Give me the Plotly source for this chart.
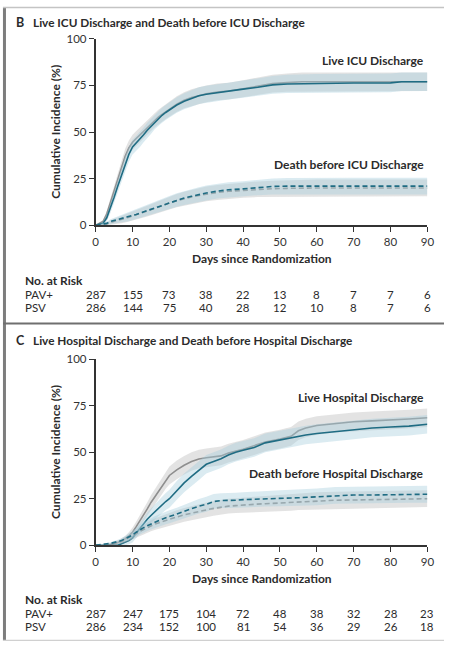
import plotly.graph_objects as go

# ---------------- Panel B: ICU outcomes ----------------
B_days = [0, 2, 3, 4, 5, 6, 7, 8, 9, 10, 11, 12, 13, 14, 15, 16, 17, 18, 19, 20,
          22, 24, 26, 28, 30, 33, 36, 40, 44, 48, 52, 56, 60, 70, 80, 83, 90]
B_live_pav = [0, 1, 4, 9, 15, 21, 27, 33, 38, 42, 44, 46, 48.5, 51, 53, 55.5, 57.5, 59, 60.5, 62,
              64.5, 66.5, 68, 69.5, 70.3, 71, 72, 73, 74, 75.3, 75.8, 76, 76.2, 76.3, 76.4, 77, 77]
B_live_psv = [0, 2, 6, 12, 19, 25, 31, 37, 41.5, 44.5, 46.5, 48.5, 50.5, 52.5, 54.5, 56.5, 58, 59.5, 61, 62.5,
              65, 67, 68.5, 69.5, 70.5, 71.5, 72, 73.2, 74.5, 76, 76.5, 77, 77, 77, 77, 77, 77]
B_death_pav = [0, 0.5, 1, 2, 2.5, 3, 3.5, 4, 4.5, 5.2, 5.8, 6.5, 7.2, 8, 8.6, 9.3, 10, 10.8, 11.5, 12.2,
               13.5, 14.6, 15.5, 16.5, 17.3, 18.3, 19, 19.5, 20.3, 20.8, 21, 21, 21, 21, 21, 21, 21]
B_death_psv = [0, 0.3, 0.7, 1.5, 2, 2.5, 3, 3.6, 4.3, 5, 5.6, 6.3, 7, 7.7, 8.3, 9, 9.7, 10.5, 11.2, 12,
               13.2, 14.3, 15.2, 16, 16.8, 17.6, 18.2, 18.8, 19.3, 19.6, 19.8, 20, 20, 20, 20, 20, 20]
# half-width of the 95% confidence bands
B_live_ci = [0, 1, 1.8, 2.5, 3, 3.5, 3.8, 4, 4, 4, 4, 4, 4, 4, 4, 4, 4, 4, 4, 4,
             4.2, 4.3, 4.4, 4.5, 4.5, 4.5, 4.5, 4.6, 4.7, 4.8, 4.9, 5, 5, 5, 5, 5, 5]
B_death_ci = [0, 0.5, 0.8, 1.2, 1.5, 1.8, 2, 2.2, 2.4, 2.6, 2.7, 2.8, 2.9, 3, 3.1, 3.2, 3.3, 3.3, 3.4, 3.5,
              3.6, 3.7, 3.8, 3.9, 4, 4, 4, 4.1, 4.2, 4.3, 4.4, 4.5, 4.5, 4.5, 4.5, 4.5, 4.5]

# ---------------- Panel C: hospital outcomes ----------------
C_days = [0, 2, 4, 6, 7, 8, 9, 10, 11, 12, 13, 14, 15, 16, 17, 18, 19, 20, 22, 24,
          26, 28, 30, 32, 34, 36, 38, 40, 43, 46, 50, 53, 55, 57, 60, 65, 70, 75, 80, 85, 90]
C_live_pav = [0, 0, 0, 0, 0.8, 1.5, 2.5, 4, 6.5, 9.5, 12, 14, 16, 18, 19.5, 21.5, 23.5, 25, 29.5, 33.5,
              37, 40, 43.5, 45, 46.5, 48.5, 50, 51, 52.5, 55, 56.5, 57.8, 58.5, 59.2, 60, 61, 62, 63, 63.5, 64, 65]
C_live_psv = [0, 0, 0.5, 1.5, 2.5, 3.5, 5, 7, 10, 13, 16, 19.5, 23, 26, 29, 32, 35, 37.5, 40.5, 43,
              45, 46.3, 47, 47.5, 48, 49.5, 50.5, 51.5, 53.5, 55.5, 57, 58.5, 61.5, 63, 64.3, 65.5, 66.3, 66.8, 67.2, 67.8, 68.5]
C_death_pav = [0, 0.5, 1, 2, 2.5, 3.5, 4.5, 5.5, 7, 8.5, 9.5, 10.5, 11.5, 12.5, 13.2, 14, 14.7, 15.3, 16.5, 18,
               19.5, 21, 22, 23.5, 24, 24, 24.2, 24.5, 24.8, 25, 25.2, 25.4, 25.5, 25.7, 26, 26.8, 27, 27, 27.2, 27.3, 27.4]
C_death_psv = [0, 0.2, 0.6, 1.5, 2, 3, 4, 5, 6.3, 7.5, 8.5, 9.5, 10.5, 11.3, 12, 12.7, 13.3, 14, 15.2, 16.3,
               17.3, 18.3, 19, 19.8, 20.5, 21, 21.3, 21.7, 22, 22.3, 22.7, 23, 23.3, 23.5, 24, 24.2, 24.3, 24.5, 24.6, 24.8, 25]
C_live_ci = [0, 0, 0.3, 0.8, 1.2, 1.5, 2, 2.5, 2.8, 3, 3.3, 3.6, 3.8, 4, 4.2, 4.4, 4.6, 4.8, 5, 5,
             5, 5, 5, 5, 5, 5, 5, 5, 5, 5, 5, 5, 5, 5, 5, 5, 5, 5, 5, 5, 5]
C_death_ci = [0, 0.3, 0.6, 1, 1.2, 1.5, 1.8, 2, 2.2, 2.5, 2.7, 2.9, 3, 3.1, 3.2, 3.3, 3.4, 3.5, 3.6, 3.7,
              3.8, 3.9, 4, 4, 4, 4, 4, 4, 4.1, 4.2, 4.3, 4.4, 4.4, 4.5, 4.5, 4.5, 4.5, 4.5, 4.5, 4.5, 4.5]

# ---------------- Numbers at risk ----------------
risk_days = [0, 10, 20, 30, 40, 50, 60, 70, 80, 90]
B_risk_pav = [287, 155, 73, 38, 22, 13, 8, 7, 7, 6]
B_risk_psv = [286, 144, 75, 40, 28, 12, 10, 8, 7, 6]
C_risk_pav = [287, 247, 175, 104, 72, 48, 38, 32, 28, 23]
C_risk_psv = [286, 234, 152, 100, 81, 54, 36, 29, 26, 18]

x_ticks = [0, 10, 20, 30, 40, 50, 60, 70, 80, 90]
y_ticks = [0, 25, 50, 75, 100]

TEAL = "#1f6c83"
GRAY = "#8e8e8e"
TEAL_BAND = "rgba(165,205,220,0.40)"
GRAY_BAND = "rgba(178,178,178,0.36)"
TXT = "#2b2b2b"
FONT = "Lato"

W, H = 451, 647


def py(p):
    """pixel row -> paper fraction"""
    return 1 - p / H


def px(p):
    return p / W


fig = go.Figure()


def add_curve(days, vals, ci, color, band, dash, xa, ya):
    lo = [max(v - c, 0) for v, c in zip(vals, ci)]
    hi = [min(v + c, 100) for v, c in zip(vals, ci)]
    fig.add_trace(go.Scatter(
        x=list(days) + list(days)[::-1], y=hi + lo[::-1],
        fill="toself", fillcolor=band, line=dict(width=0),
        mode="lines", hoverinfo="skip", showlegend=False, xaxis=xa, yaxis=ya))
    fig.add_trace(go.Scatter(
        x=days, y=vals, mode="lines", line=dict(color=color, width=1.6, dash=dash),
        showlegend=False, xaxis=xa, yaxis=ya))


# Panel B traces
add_curve(B_days, B_live_psv, B_live_ci, GRAY, GRAY_BAND, "solid", "x", "y")
add_curve(B_days, B_live_pav, B_live_ci, TEAL, TEAL_BAND, "solid", "x", "y")
add_curve(B_days, B_death_psv, B_death_ci, GRAY, GRAY_BAND, "5px,3px", "x", "y")
add_curve(B_days, B_death_pav, B_death_ci, TEAL, TEAL_BAND, "5px,3px", "x", "y")

# Panel C traces
add_curve(C_days, C_live_psv, C_live_ci, GRAY, GRAY_BAND, "solid", "x2", "y2")
add_curve(C_days, C_live_pav, C_live_ci, TEAL, TEAL_BAND, "solid", "x2", "y2")
add_curve(C_days, C_death_psv, C_death_ci, GRAY, GRAY_BAND, "5px,3px", "x2", "y2")
add_curve(C_days, C_death_pav, C_death_ci, TEAL, TEAL_BAND, "5px,3px", "x2", "y2")

x_dom = [px(94.8), px(434)]
axis_common = dict(showline=True, linecolor="#333", showgrid=False, zeroline=False,
                   ticks="outside", ticklen=5, tickwidth=1.4, tickcolor="#333",
                   tickfont=dict(family=FONT, size=11.5, color="#333"), fixedrange=True)

fig.update_layout(
    width=W, height=H, margin=dict(l=0, r=0, t=0, b=0),
    paper_bgcolor="white", plot_bgcolor="white",
    xaxis=dict(domain=x_dom, range=[0, 90], tickvals=x_ticks, linewidth=2.2, anchor="y", **axis_common),
    yaxis=dict(domain=[py(222.7), py(32.5)], range=[0, 100], tickvals=y_ticks, linewidth=1.8,
               anchor="x", **axis_common),
    xaxis2=dict(domain=x_dom, range=[0, 90], tickvals=x_ticks, linewidth=2.2, anchor="y2", **axis_common),
    yaxis2=dict(domain=[py(549.3), py(359.3)], range=[0, 100], tickvals=y_ticks, linewidth=1.8,
                anchor="x2", **axis_common),
)

ann = []


def text(x, y, s, size=11, bold=False, xanchor="left", xref="paper", angle=0, color=TXT):
    ann.append(dict(x=x, y=y, xref=xref, yref="paper", text=f"<b>{s}</b>" if bold else s,
                    showarrow=False, xanchor=xanchor, yanchor="middle", textangle=angle,
                    borderpad=0, font=dict(family=FONT, size=size, color=color)))


def panel_text(letter, title, axis_mid, xlabel_y, curve_labels, risk_top, risk_pav, risk_psv, xref):
    text(px(12.5), py(title[1]), letter, size=12.5, bold=True)
    text(px(30), py(title[1]), title[0], size=11.8, bold=True)
    text(px(53), py(axis_mid), "Cumulative Incidence (%)", size=12, bold=True, xanchor="center", angle=-90)
    text(px(264.5), py(xlabel_y), "Days since Randomization", size=12, bold=True, xanchor="center")
    for lab, yy in curve_labels:
        text(px(432), py(yy), lab, size=12, bold=True, xanchor="right")
    text(px(21), py(risk_top), "No. at Risk", size=12, bold=True)
    text(px(21), py(risk_top + 14), "PAV+", size=11.5)
    text(px(21), py(risk_top + 27.5), "PSV", size=11.5)
    for d, a, b in zip(risk_days, risk_pav, risk_psv):
        text(d, py(risk_top + 14), str(a), size=11.5, xanchor="center", xref=xref)
        text(d, py(risk_top + 27.5), str(b), size=11.5, xanchor="center", xref=xref)


panel_text("B", ("Live ICU Discharge and Death before ICU Discharge", 15.5), 127.6, 257,
           [("Live ICU Discharge", 55), ("Death before ICU Discharge", 161)],
           279, B_risk_pav, B_risk_psv, "x")
panel_text("C", ("Live Hospital Discharge and Death before Hospital Discharge", 340.5), 454.3, 583,
           [("Live Hospital Discharge", 398), ("Death before Hospital Discharge", 476)],
           605, C_risk_pav, C_risk_psv, "x2")

fig.update_layout(annotations=ann)

# panel frames
shapes = [
    dict(type="line", xref="paper", yref="paper", x0=px(1.5), x1=px(1.5), y0=0, y1=1,
         line=dict(color="#7d7d7d", width=3)),
    dict(type="line", xref="paper", yref="paper", x0=0, x1=1, y0=py(0.5), y1=py(0.5),
         line=dict(color="#c4c4c4", width=1.5)),
    dict(type="line", xref="paper", yref="paper", x0=0, x1=1, y0=py(323), y1=py(323),
         line=dict(color="#6f6f6f", width=2)),
    dict(type="line", xref="paper", yref="paper", x0=0, x1=1, y0=py(646.3), y1=py(646.3),
         line=dict(color="#d0d0d0", width=1.2)),
]
fig.update_layout(shapes=shapes)

fig.write_html("out.html")
